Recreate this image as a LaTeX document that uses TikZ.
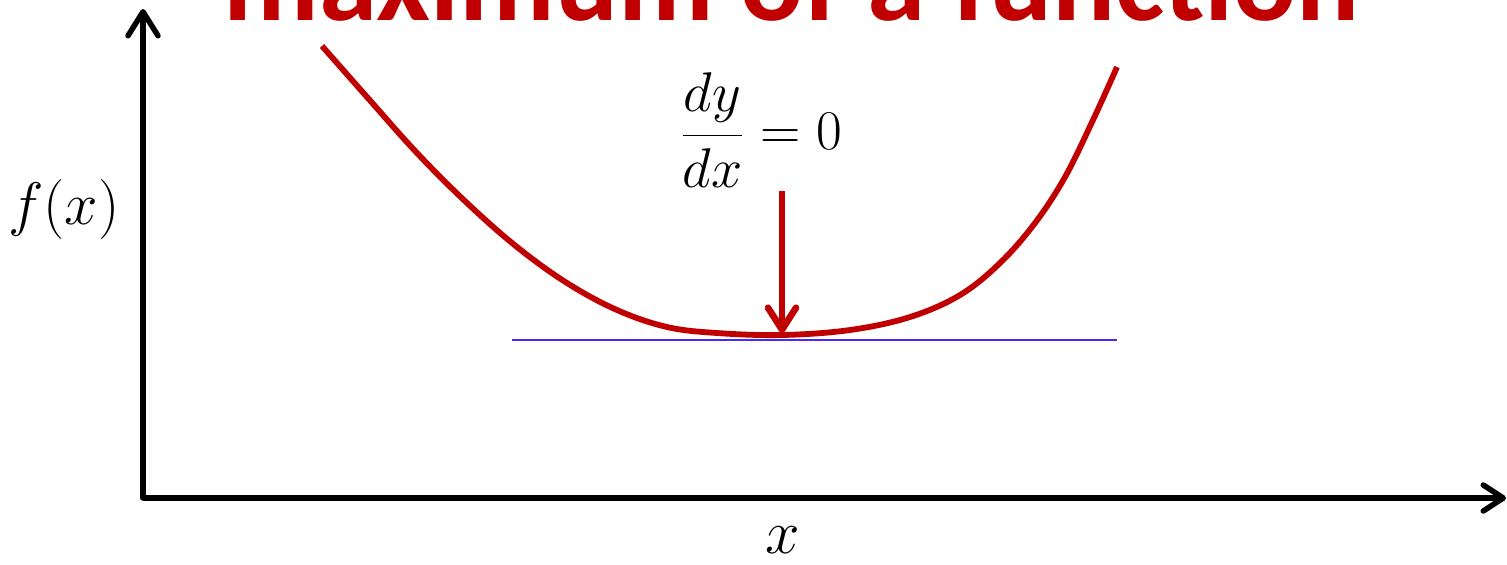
\RequirePackage{fix-cm}
\documentclass[tikz,border=0pt]{standalone}
\usepackage{fontspec}
\newfontfamily\titlefont{Carlito}
\usetikzlibrary{arrows.meta}
\definecolor{dred}{RGB}{192,0,0}
\definecolor{tanblue}{RGB}{75,40,245}
\tikzset{
  axis/.style={line width=2.75pt,-{Straight Barb[length=12pt,width=15pt,round]}},
  redarrow/.style={dred,line width=3.3pt,-{Straight Barb[length=11pt,width=14pt,round]}},
  curve/.style={dred,line width=2.9pt},
  tangent/.style={tanblue,line width=1pt},
  lbl/.style={inner sep=0pt,font=\fontsize{30}{34}\selectfont}
}
\begin{document}
\begin{tikzpicture}[x=0.5pt,y=-0.5pt]
\useasboundingbox (0,0) rectangle (1507,564);
\clip (0,0) rectangle (1507,564);
% title (cut off at top)
\node[anchor=base,inner sep=0pt,text=dred,font=\titlefont\bfseries\fontsize{58.8}{60}\selectfont] (title) at (792,20) {maximum of a function};
% axes
\coordinate (O) at (143,498);
\coordinate (ytop) at (143,9);
\coordinate (xend) at (1506,498);
\draw[axis,line cap=round] (O) -- (ytop);
\draw[axis,-{Straight Barb[length=10pt,width=13pt,round]}] (O) -- (xend);
% labels
\node[lbl] (fx) at (64,209) {$f(x)$};
\node[lbl,font=\fontsize{31}{34}\selectfont] (xl) at (783,540) {$x$};
% tangent line
\coordinate (t1) at (512,340);
\coordinate (t2) at (1117,340);
\draw[tangent] (t1) -- (t2);
% curve
\draw[curve] plot[smooth,tension=0.6] coordinates {(322,46) (367,97) (417,153) (467,203) (517,247) (567,283) (617,310) (667,327) (717,333) (782,335) (850,330) (910,317) (960,295) (1000,263) (1035,223) (1065,177) (1093,120) (1117,67)};
% derivative label and arrow
\node[inner sep=0pt,font=\fontsize{28}{32}\selectfont] (dydx) at (761,130) {$\displaystyle \frac{dy}{dx} = 0$};
\coordinate (atop) at (782,191);
\coordinate (amin) at (782,333);
\draw[redarrow] (atop) -- (amin);
\end{tikzpicture}
\end{document}
